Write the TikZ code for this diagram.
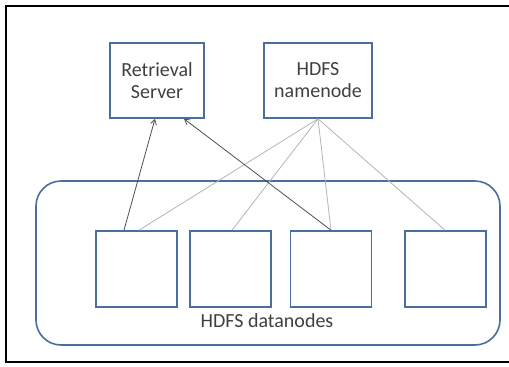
\documentclass[tikz,border=0pt]{standalone}
\usepackage{fontspec}
\setmainfont{Carlito}
\usetikzlibrary{arrows.meta}
\definecolor{boxblue}{HTML}{4A6E9E}
\definecolor{textgrey}{HTML}{404040}
\definecolor{linkgrey}{HTML}{B4B4B4}
\definecolor{arrowgrey}{HTML}{505050}
\tikzset{
  box/.style={draw=boxblue, line width=1.6pt, fill=white, text=textgrey,
    align=center, font=\fontsize{20}{22}\selectfont},
  datanode/.style={box, minimum width=81pt, minimum height=76pt},
  link/.style={draw=linkgrey, line width=0.8pt},
  fetch/.style={draw=arrowgrey, line width=0.8pt, -{Straight Barb[length=5pt,width=6pt]}}
}
\begin{document}
\begin{tikzpicture}[x=1pt, y=-1pt]
  \useasboundingbox (0,0) rectangle (509,367);
  \draw[line width=2pt] (520,6) -- (6,6) -- (6,362) -- (520,362);

  \node[box, minimum width=464pt, minimum height=164pt, rounded corners=25pt]
    (cluster) at (268,263) {};
  \node[box, draw=none, fill=none] (clusterlabel) at (267,321) {HDFS datanodes};

  \node[box, minimum width=94pt, minimum height=75pt] (retrieval) at (157,80.5)
    {Retrieval\\Server};
  \node[box, minimum width=108pt, minimum height=75pt] (namenode) at (318,80.5)
    {HDFS\\namenode};

  \node[datanode] (dn1) at (136.5,269) {};
  \node[datanode] (dn2) at (230.5,269) {};
  \node[datanode] (dn3) at (331,269) {};
  \node[datanode] (dn4) at (445.5,269) {};

  \draw[link] (namenode.south) -- ([xshift=2.5pt]dn1.north);
  \draw[link] (namenode.south) -- ([xshift=1.5pt]dn2.north);
  \draw[link] (namenode.south) -- (dn3.north);
  \draw[link] (namenode.south) -- ([xshift=-0.5pt]dn4.north);

  \draw[fetch] ([xshift=-12.5pt]dn1.north) -- ([xshift=-2pt]retrieval.south);
  \draw[fetch] (dn3.north) -- ([xshift=27pt]retrieval.south);
\end{tikzpicture}
\end{document}
